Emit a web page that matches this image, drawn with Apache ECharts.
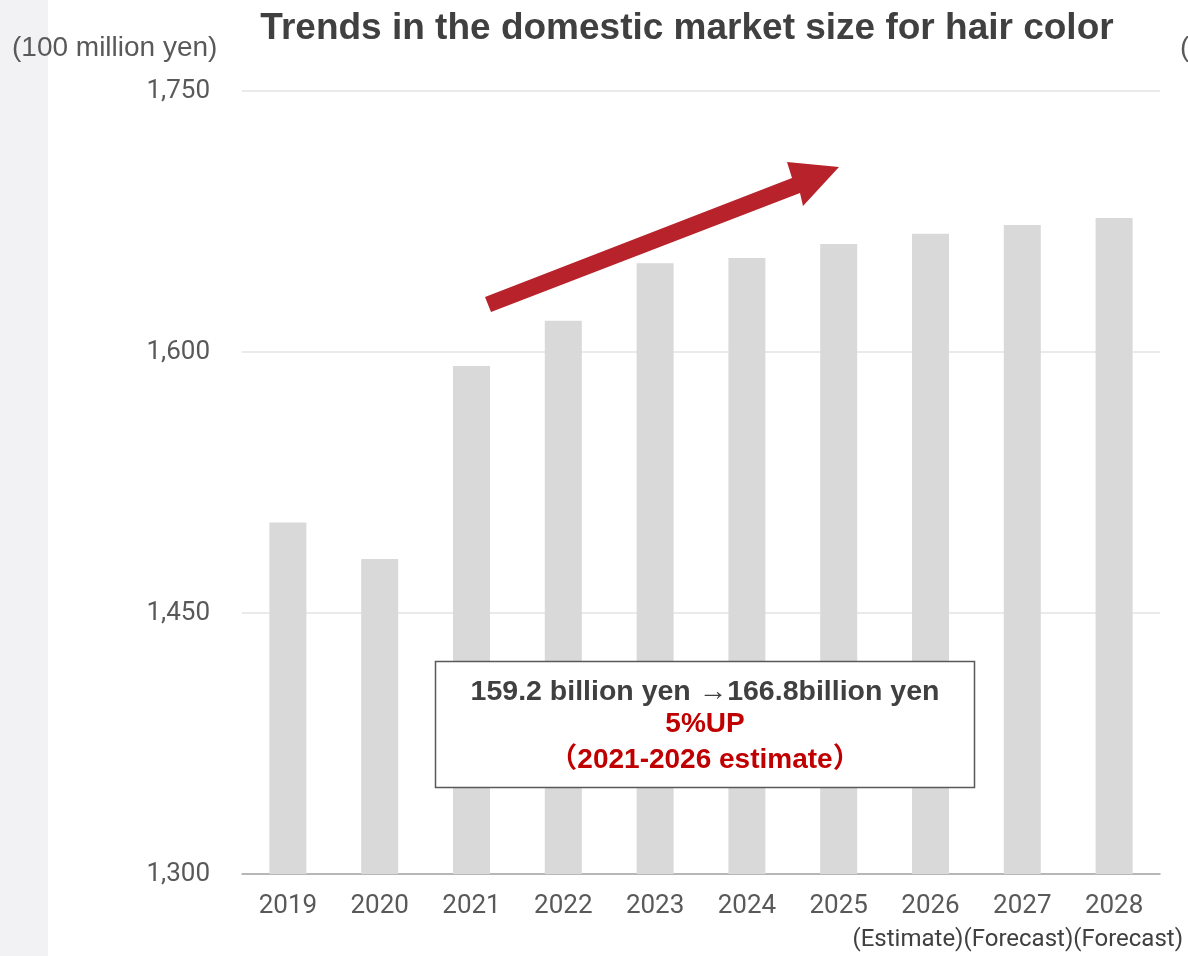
<!DOCTYPE html>
<html>
<head>
<meta charset="utf-8">
<script src="https://cdn.jsdelivr.net/npm/echarts@6/dist/echarts.min.js"></script>
<style>
  html, body { margin: 0; padding: 0; background: #ffffff; }
  #chart { width: 1188px; height: 956px; }
</style>
</head>
<body>
<div id="chart"></div>
<script>
// Domestic hair color market size, unit: 100 million yen
const years = ['2019', '2020', '2021', '2022', '2023', '2024', '2025', '2026', '2027', '2028'];
const marketSize = [1502, 1481, 1592, 1618, 1651, 1654, 1662, 1668, 1673, 1677];
const yTicks = { min: 1300, max: 1750, interval: 150 };

const chart = echarts.init(document.getElementById('chart'));

const tickFont = 'Roboto, "Liberation Sans", Arial, sans-serif';
const headFont = '"Liberation Sans", Arial, sans-serif';

chart.setOption({
  backgroundColor: '#ffffff',
  animation: false,
  title: {
    text: 'Trends in the domestic market size for hair color',
    left: 682,
    top: 5,
    textAlign: 'center',
    textStyle: { fontFamily: headFont, fontSize: 37, fontWeight: 'bold', color: '#404040' }
  },
  grid: { left: 242, right: 28, top: 91, bottom: 82 },
  xAxis: {
    type: 'category',
    data: years,
    axisLine: { lineStyle: { color: '#a6a6a6', width: 1.5 } },
    axisTick: { show: false },
    axisLabel: { color: '#595959', fontFamily: tickFont, fontSize: 26, margin: 19 }
  },
  yAxis: {
    type: 'value',
    min: yTicks.min,
    max: yTicks.max,
    interval: yTicks.interval,
    axisLine: { show: false },
    axisTick: { show: false },
    splitLine: { lineStyle: { color: '#e3e3e3', width: 1.5 } },
    axisLabel: {
      color: '#595959', fontFamily: tickFont, fontSize: 26, margin: 32,
      padding: [7, 0, 0, 0],
      formatter: v => v.toLocaleString('en-US')
    }
  },
  series: [{
    type: 'bar',
    data: marketSize,
    barWidth: 37,
    itemStyle: { color: '#d9d9d9' },
    z: 2
  }],
  graphic: [
    // light side strip
    { type: 'rect', left: 0, top: 0, z: -10, shape: { width: 48, height: 956 }, style: { fill: '#f2f2f4' } },
    // unit label
    { type: 'text', left: 12, top: 34, z: 10,
      style: { text: '(100 million yen)', fill: '#595959', font: '28px ' + headFont } },
    { type: 'text', left: 1180, top: 34, z: 10,
      style: { text: '(', fill: '#595959', font: '28px ' + headFont } },
    // period notes under the last categories
    { type: 'text', right: 5, top: 928, z: 10,
      style: { text: '(Estimate)(Forecast)(Forecast)', fill: '#404040', font: '24px ' + tickFont } },
    // growth arrow
    { type: 'polygon', z: 10,
      shape: { points: [[485, 297], [792, 178], [787, 162], [839, 167], [803, 206], [800, 193], [491, 312]] },
      style: { fill: '#b8232b' } },
    // summary box
    { type: 'rect', z: 10,
      shape: { x: 435.5, y: 661.5, width: 539, height: 126 },
      style: { fill: '#ffffff', stroke: '#595959', lineWidth: 1.5 } },
    { type: 'text', z: 11, x: 705, y: 692,
      style: { text: '159.2 billion yen \u2192166.8billion yen', fill: '#404040',
               font: 'bold 28.5px ' + headFont, align: 'center', verticalAlign: 'middle' } },
    { type: 'text', z: 11, x: 705, y: 724,
      style: { text: '5%UP', fill: '#c00000',
               font: 'bold 28px ' + headFont, align: 'center', verticalAlign: 'middle' } },
    { type: 'text', z: 11, x: 705, y: 760,
      style: { text: '\uff082021-2026 estimate\uff09', fill: '#c00000',
               font: 'bold 28px ' + headFont + ', "Noto Sans CJK JP"', align: 'center', verticalAlign: 'middle' } }
  ]
});
</script>
</body>
</html>
